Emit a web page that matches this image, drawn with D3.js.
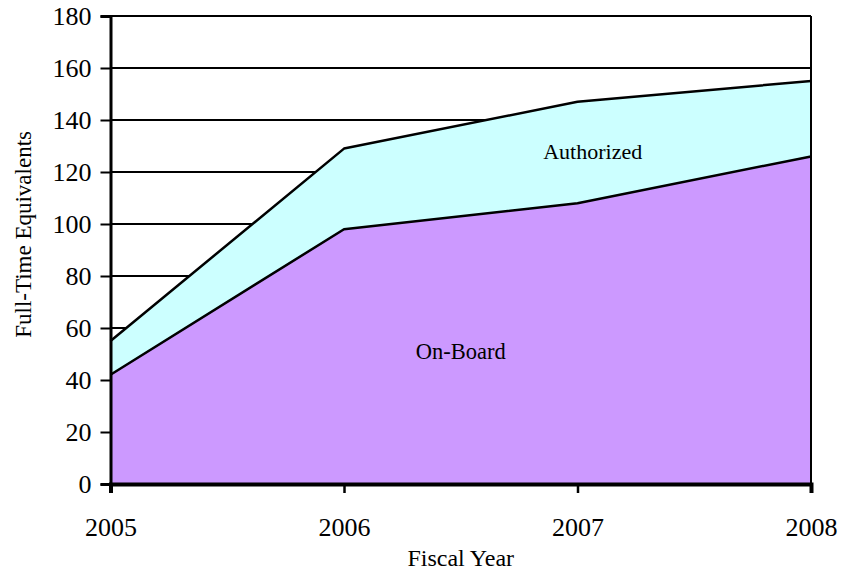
<!DOCTYPE html>
<html>
<head>
<meta charset="utf-8">
<script src="https://cdn.jsdelivr.net/npm/d3@7"></script>
<style>
  body { margin: 0; background: #fff; }
</style>
</head>
<body>
<div id="chart"></div>
<script>
// ========= Data ========= //
const years = [2005, 2006, 2007, 2008];
const onBoard = [42, 98, 108, 126];
const authorized = [55, 129, 147, 155];
const yTicks = [0, 20, 40, 60, 80, 100, 120, 140, 160, 180];

// ========= Layout ========= //
const width = 843, height = 571;
const margin = { top: 16, right: 32, bottom: 87, left: 110.5 };
const serif = "'Liberation Serif', 'Times New Roman', Times, 'DejaVu Serif', serif";

const svg = d3.select('#chart').append('svg')
  .attr('width', width)
  .attr('height', height)
  .style('font-family', serif);

const x = d3.scaleLinear()
  .domain(d3.extent(years))
  .range([margin.left, width - margin.right]);

const y = d3.scaleLinear()
  .domain([0, 180])
  .range([height - margin.bottom, margin.top]);

const rows = years.map((yr, i) => ({ year: yr, onBoard: onBoard[i], authorized: authorized[i] }));

// ========= Areas ========= //
const authArea = d3.area()
  .x((d) => x(d.year))
  .y0((d) => y(d.onBoard))
  .y1((d) => y(d.authorized));

const onBoardArea = d3.area()
  .x((d) => x(d.year))
  .y0(y(0))
  .y1((d) => y(d.onBoard));

// gridlines first
svg.append('g')
  .selectAll('line')
  .data(yTicks.filter((t) => t > 0))
  .join('line')
  .attr('x1', margin.left)
  .attr('x2', width - margin.right)
  .attr('y1', (d) => y(d))
  .attr('y2', (d) => y(d))
  .attr('stroke', '#000')
  .attr('stroke-width', 2);

svg.append('path')
  .datum(rows)
  .attr('fill', '#CCFFFF')
  .attr('d', authArea);

svg.append('path')
  .datum(rows)
  .attr('fill', '#CC99FF')
  .attr('d', onBoardArea);

// series lines
const line = (key) => d3.line().x((d) => x(d.year)).y((d) => y(d[key]));
['authorized', 'onBoard'].forEach((k) => {
  svg.append('path')
    .datum(rows)
    .attr('fill', 'none')
    .attr('stroke', '#000')
    .attr('stroke-width', 2.5)
    .attr('stroke-linejoin', 'round')
    .attr('d', line(k));
});

// right border
svg.append('line')
  .attr('x1', x(2008)).attr('x2', x(2008))
  .attr('y1', y(180)).attr('y2', y(0))
  .attr('stroke', '#000').attr('stroke-width', 2);

// ========= Axes ========= //
const yAxis = svg.append('g')
  .attr('transform', `translate(${margin.left},0)`)
  .call(d3.axisLeft(y).tickValues(yTicks).tickSize(10).tickPadding(9));
yAxis.attr('font-family', null).attr('font-size', null);
yAxis.select('.domain').attr('stroke-width', 3);
yAxis.selectAll('.tick line').attr('stroke-width', 2);
yAxis.selectAll('text').style('font-family', serif).style('font-size', '26px');

const xAxis = svg.append('g')
  .attr('transform', `translate(0,${y(0)})`)
  .call(d3.axisBottom(x).tickValues(years).tickFormat(d3.format('d')).tickSize(9));
xAxis.attr('font-family', null).attr('font-size', null);
xAxis.select('.domain').attr('stroke-width', 4);
xAxis.selectAll('.tick line').attr('stroke-width', 2.5);
xAxis.selectAll('text')
  .attr('y', 52).attr('dy', null)
  .style('font-family', serif).style('font-size', '26px');

// ========= Labels ========= //
svg.append('text')
  .attr('x', x(2006.5))
  .attr('y', 566)
  .attr('text-anchor', 'middle')
  .style('font-size', '24px')
  .text('Fiscal Year');

svg.append('text')
  .attr('transform', `translate(31,${y(96)}) rotate(-90)`)
  .attr('text-anchor', 'middle')
  .style('font-size', '23px')
  .text('Full-Time Equivalents');

svg.append('text')
  .attr('x', x(2007.065))
  .attr('y', y(125))
  .attr('text-anchor', 'middle')
  .style('font-size', '22px')
  .text('Authorized');

svg.append('text')
  .attr('x', x(2006.5))
  .attr('y', y(48))
  .attr('text-anchor', 'middle')
  .style('font-size', '22.5px')
  .text('On-Board');
</script>
</body>
</html>
